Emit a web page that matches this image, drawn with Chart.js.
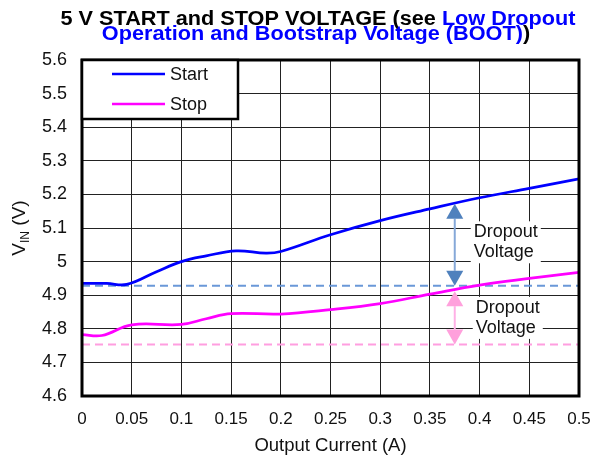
<!DOCTYPE html>
<html>
<head>
<meta charset="utf-8">
<script src="https://cdn.jsdelivr.net/npm/chart.js@4/dist/chart.umd.min.js"></script>
<style>
  html, body { margin: 0; padding: 0; background: #fff; }
  #wrap { width: 604px; height: 462px; position: relative; }
</style>
</head>
<body>
<div id="wrap"><canvas id="chart" width="604" height="462"></canvas></div>
<script>
// Curve data (output current in A, VIN in V)
const startCurrent = [0, 0.025, 0.045, 0.075, 0.1, 0.125, 0.155, 0.185, 0.2, 0.25, 0.3, 0.35, 0.4, 0.45, 0.5];
const startVoltage = [4.935, 4.935, 4.932, 4.97, 5.0, 5.017, 5.032, 5.025, 5.03, 5.08, 5.122, 5.157, 5.19, 5.218, 5.246];

const stopCurrent = [0, 0.02, 0.05, 0.1, 0.125, 0.15, 0.2, 0.25, 0.3, 0.35, 0.4, 0.45, 0.5];
const stopVoltage = [4.783, 4.78, 4.812, 4.813, 4.83, 4.845, 4.844, 4.857, 4.875, 4.903, 4.93, 4.95, 4.968];

// Dashed reference levels
const refCurrent = [0, 0.5];
const startRef = 4.928;
const stopRef = 4.753;

// Dropout arrows: [current, from V, to V]
const startArrow = [0.375, 5.172, startRef];
const stopArrow = [0.375, 4.912, stopRef];
const dropoutText = ['Dropout', 'Voltage'];

const xTicks = { min: 0, max: 0.5, step: 0.05 };
const yTicks = { min: 4.6, max: 5.6, step: 0.1 };

const titleLine1 = [['5 V START and STOP VOLTAGE (see ', '#000'], ['Low Dropout', '#0000ff']];
const titleLine2 = [['Operation and Bootstrap Voltage (BOOT)', '#0000ff'], [')', '#000']];

const FONT = '"Liberation Sans", Arial, sans-serif';

function toPoints(xs, ys) {
    return xs.map((x, i) => ({ x: x, y: ys[i] }));
}

function drawArrow(ctx, x, y1, y2, shaft, head) {
    const dir = y2 > y1 ? 1 : -1;
    const hl = 15, hw = 8.5;
    ctx.save();
    ctx.strokeStyle = shaft;
    ctx.lineWidth = 2;
    ctx.beginPath();
    ctx.moveTo(x, y1 + dir * hl);
    ctx.lineTo(x, y2 - dir * hl);
    ctx.stroke();
    ctx.fillStyle = head;
    ctx.beginPath();
    ctx.moveTo(x, y1);
    ctx.lineTo(x - hw, y1 + dir * hl);
    ctx.lineTo(x + hw, y1 + dir * hl);
    ctx.closePath();
    ctx.fill();
    ctx.beginPath();
    ctx.moveTo(x, y2);
    ctx.lineTo(x - hw, y2 - dir * hl);
    ctx.lineTo(x + hw, y2 - dir * hl);
    ctx.closePath();
    ctx.fill();
    ctx.restore();
}

function drawLabel(ctx, x, yTop, lines) {
    ctx.save();
    ctx.font = '18px ' + FONT;
    const w = Math.max(...lines.map(l => ctx.measureText(l).width));
    ctx.fillStyle = '#fff';
    ctx.fillRect(x - 3, yTop, w + 6, 42);
    ctx.fillStyle = '#111';
    ctx.textAlign = 'left';
    ctx.textBaseline = 'middle';
    lines.forEach((l, i) => ctx.fillText(l, x, yTop + 11 + i * 20));
    ctx.restore();
}

// title text is a bit wider than Arial bold in the source, so stretch it horizontally
function drawTitleLine(ctx, parts, cx, y, sx) {
    const total = parts.reduce((s, p) => s + ctx.measureText(p[0]).width, 0);
    ctx.save();
    ctx.translate(cx, y);
    ctx.scale(sx, 1);
    let x = -total / 2;
    parts.forEach(p => {
        ctx.fillStyle = p[1];
        ctx.fillText(p[0], x, 0);
        x += ctx.measureText(p[0]).width;
    });
    ctx.restore();
}

const decorPlugin = {
    id: 'decor',
    afterDraw(chart) {
        const ctx = chart.ctx;
        const a = chart.chartArea;
        const xs = chart.scales.x, ys = chart.scales.y;

        // plot border
        ctx.save();
        ctx.strokeStyle = '#000';
        ctx.lineWidth = 3;
        ctx.strokeRect(a.left, a.top, a.right - a.left, a.bottom - a.top);
        ctx.restore();

        // arrows
        const ax = xs.getPixelForValue(startArrow[0]);
        drawArrow(ctx, ax, ys.getPixelForValue(startArrow[1]), ys.getPixelForValue(startArrow[2]), '#86a8d8', '#4f81bd');
        const bx = xs.getPixelForValue(stopArrow[0]);
        drawArrow(ctx, bx, ys.getPixelForValue(stopArrow[1]), ys.getPixelForValue(stopArrow[2]), '#ffb0e6', '#ffa0dc');

        // legend box
        ctx.save();
        ctx.fillStyle = '#fff';
        ctx.fillRect(a.left, a.top, 156, 59);
        ctx.strokeStyle = '#000';
        ctx.lineWidth = 2.5;
        ctx.strokeRect(a.left, a.top, 156, 59);
        ctx.font = '18px ' + FONT;
        ctx.textBaseline = 'middle';
        chart.data.datasets.slice(0, 2).forEach((ds, i) => {
            const y = a.top + 14 + i * 30;
            ctx.strokeStyle = ds.borderColor;
            ctx.lineWidth = 2.5;
            ctx.beginPath();
            ctx.moveTo(a.left + 30, y);
            ctx.lineTo(a.left + 83, y);
            ctx.stroke();
            ctx.fillStyle = '#111';
            ctx.fillText(ds.label, a.left + 88, y + 1);
        });
        ctx.restore();

        // title
        ctx.save();
        ctx.font = 'bold 19.5px ' + FONT;
        ctx.textBaseline = 'alphabetic';
        ctx.textAlign = 'left';
        const w1 = titleLine1.reduce((s, p) => s + ctx.measureText(p[0]).width, 0);
        const sx = 515 / w1;
        drawTitleLine(ctx, titleLine1, 318, 25, sx);
        drawTitleLine(ctx, titleLine2, 316, 39.5, sx);
        ctx.restore();

        // y axis title with subscript
        ctx.save();
        ctx.translate(20, (a.top + a.bottom) / 2);
        ctx.rotate(-Math.PI / 2);
        ctx.fillStyle = '#111';
        ctx.textBaseline = 'middle';
        ctx.font = '19px ' + FONT;
        const wV = ctx.measureText('V').width;
        ctx.font = '12px ' + FONT;
        const wIN = ctx.measureText('IN').width;
        ctx.font = '19px ' + FONT;
        const wRest = ctx.measureText(' (V)').width;
        let x = -(wV + wIN + wRest) / 2;
        ctx.fillText('V', x, 0);
        x += wV;
        ctx.font = '12px ' + FONT;
        ctx.fillText('IN', x, 6);
        x += wIN;
        ctx.font = '19px ' + FONT;
        ctx.fillText(' (V)', x, 0);
        ctx.restore();
    }
};

// labels drawn before datasets so curves pass over them like in the figure
const labelPlugin = {
    id: 'labels',
    beforeDatasetsDraw(chart) {
        const ctx = chart.ctx;
        const xs = chart.scales.x, ys = chart.scales.y;
        const lx = xs.getPixelForValue(startArrow[0]) + 19;
        drawLabel(ctx, lx, ys.getPixelForValue(5.12), dropoutText);
        drawLabel(ctx, lx + 2, ys.getPixelForValue(4.895), dropoutText);
    }
};

new Chart(document.getElementById('chart'), {
    type: 'line',
    data: {
        datasets: [
            {
                label: 'Start',
                data: toPoints(startCurrent, startVoltage),
                borderColor: '#0000ff',
                borderWidth: 2.75,
                pointRadius: 0,
                tension: 0.4,
                order: 1
            },
            {
                label: 'Stop',
                data: toPoints(stopCurrent, stopVoltage),
                borderColor: '#ff00ff',
                borderWidth: 2.75,
                pointRadius: 0,
                tension: 0.4,
                order: 2
            },
            {
                label: 'Start ref',
                data: toPoints(refCurrent, [startRef, startRef]),
                borderColor: '#6a98d8',
                borderWidth: 2,
                borderDash: [8, 5],
                pointRadius: 0,
                order: 3
            },
            {
                label: 'Stop ref',
                data: toPoints(refCurrent, [stopRef, stopRef]),
                borderColor: '#ff9ee0',
                borderWidth: 2,
                borderDash: [8, 5],
                pointRadius: 0,
                order: 4
            }
        ]
    },
    options: {
        responsive: false,
        animation: false,
        layout: { padding: { top: 60, right: 25, left: 0, bottom: 0 } },
        plugins: {
            legend: { display: false },
            tooltip: { enabled: false }
        },
        scales: {
            x: {
                type: 'linear',
                min: xTicks.min,
                max: xTicks.max,
                afterFit: s => { s.height = 66; },
                afterBuildTicks: s => {
                    const t = [];
                    for (let v = xTicks.min; v <= xTicks.max + 1e-9; v += xTicks.step) t.push({ value: +v.toFixed(2) });
                    s.ticks = t;
                },
                grid: { color: '#222', lineWidth: 1, drawTicks: false },
                border: { display: false },
                ticks: {
                    padding: 13,
                    color: '#111',
                    font: { size: 17, family: FONT },
                    maxRotation: 0,
                    autoSkip: false,
                    callback: v => String(+v.toFixed(2))
                },
                title: {
                    display: true,
                    text: 'Output Current (A)',
                    color: '#111',
                    font: { size: 18.5, family: FONT },
                    padding: { top: 0, bottom: 5 }
                }
            },
            y: {
                min: yTicks.min,
                max: yTicks.max,
                afterFit: s => { s.width = 82; },
                afterBuildTicks: s => {
                    const t = [];
                    for (let v = yTicks.min; v <= yTicks.max + 1e-9; v += yTicks.step) t.push({ value: +v.toFixed(1) });
                    s.ticks = t;
                },
                grid: { color: '#222', lineWidth: 1, drawTicks: false },
                border: { display: false },
                ticks: {
                    padding: 15,
                    color: '#111',
                    font: { size: 18, family: FONT },
                    autoSkip: false,
                    callback: v => String(+v.toFixed(1))
                }
            }
        }
    },
    plugins: [labelPlugin, decorPlugin]
});
</script>
</body>
</html>
